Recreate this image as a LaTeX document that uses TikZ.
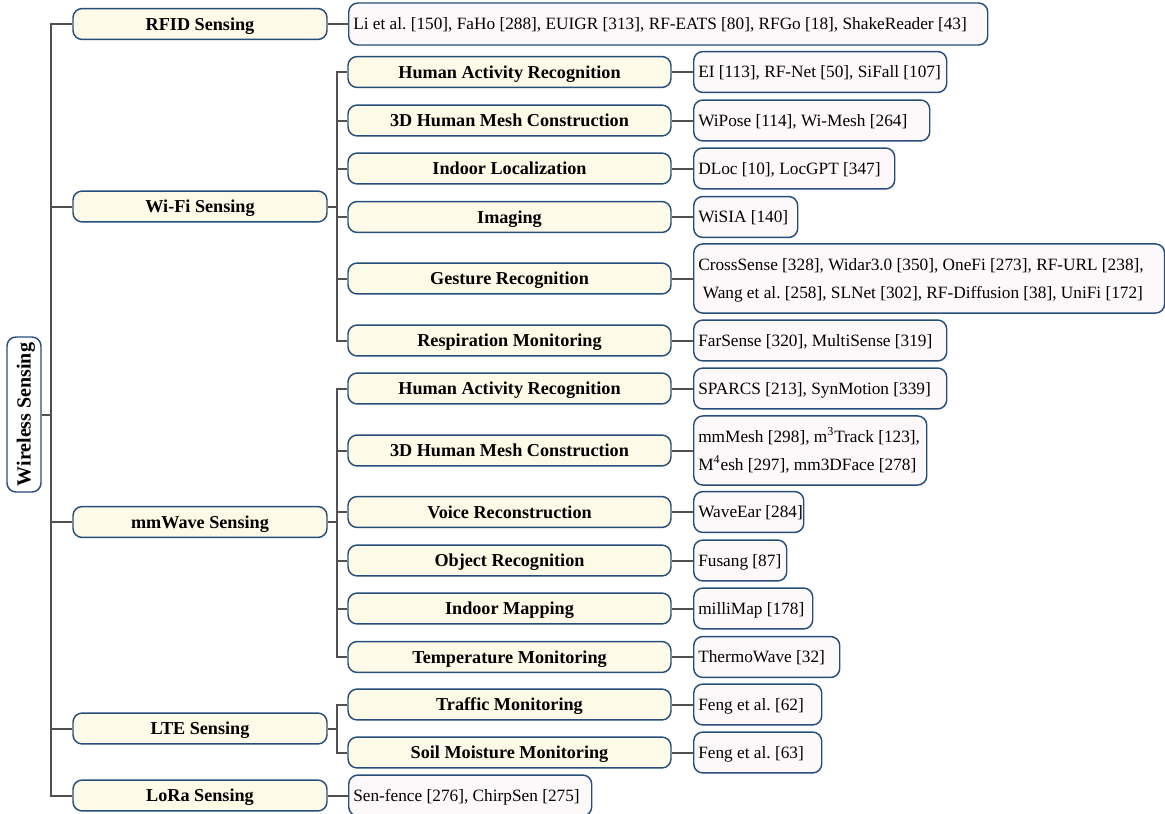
\documentclass[tikz,border=0pt]{standalone}
\usepackage{fontspec}
\setmainfont{Liberation Serif}
\frenchspacing
\definecolor{bcol}{RGB}{38,78,122}
\definecolor{lfill}{RGB}{254,250,232}
\definecolor{rfill}{RGB}{253,249,251}
\definecolor{lcol}{RGB}{80,80,80}
\newcommand{\rb}[2]{\makebox[#1][l]{\hspace{2.5pt}#2}}
\newcommand{\rbb}[3]{\makebox[#1][l]{\hspace{2.5pt}\begin{tabular}{@{}l@{}}#2\\#3\end{tabular}}}
\begin{document}
\begin{tikzpicture}[x=0.55pt,y=-0.55pt,
  lvl/.style={draw=bcol, fill=lfill, line width=0.8pt, rounded corners=5pt, inner sep=0pt, minimum height=17pt, text height=6.8pt, text depth=0pt, font=\fontsize{10}{12}\selectfont\bfseries},
  lvla/.style={lvl, minimum width=139.7pt},
  lvlb/.style={lvl, minimum width=177.65pt},
  refbase/.style={draw=bcol, fill=rfill, line width=0.8pt, rounded corners=5pt, inner sep=0pt, anchor=west, font=\fontsize{9.5}{15.4}\selectfont},
  refn/.style={refbase, minimum height=22.5pt, text height=6.5pt, text depth=0pt},
  refm/.style={refbase, minimum height=38pt},
  rootn/.style={draw=bcol, fill=white, line width=0.8pt, rounded corners=5pt, inner sep=0pt, rotate=90, minimum width=85.25pt, minimum height=18.7pt, text height=7.4pt, text depth=0pt, font=\fontsize{11}{13}\selectfont\bfseries},
  conn/.style={draw=lcol, line width=1.1pt}]
\useasboundingbox (0,0) rectangle (1165,814);

% root
\node[rootn] (root) at (24,414.5) {Wireless Sensing};

% level 1
\node[lvla] (rfid) at (200,24) {RFID Sensing};
\node[lvla] (wifi) at (200,206.5) {Wi-Fi Sensing};
\node[lvla] (mmw)  at (200,522) {mmWave Sensing};
\node[lvla] (lte)  at (200,728.5) {LTE Sensing};
\node[lvla] (lora) at (200,795.5) {LoRa Sensing};

% level 2 (Wi-Fi)
\node[lvlb] (whar)  at (509.5,72) {Human Activity Recognition};
\node[lvlb] (wmesh) at (509.5,120.5) {3D Human Mesh Construction};
\node[lvlb] (wloc)  at (509.5,168.5) {Indoor Localization};
\node[lvlb] (wimg)  at (509.5,217) {Imaging};
\node[lvlb] (wges)  at (509.5,278.5) {Gesture Recognition};
\node[lvlb] (wresp) at (509.5,340.5) {Respiration Monitoring};
% level 2 (mmWave)
\node[lvlb] (mhar)  at (509.5,388.5) {Human Activity Recognition};
\node[lvlb] (mmesh) at (509.5,450.5) {3D Human Mesh Construction};
\node[lvlb] (mvoi)  at (509.5,512) {Voice Reconstruction};
\node[lvlb] (mobj)  at (509.5,560.5) {Object Recognition};
\node[lvlb] (mmap)  at (509.5,608.5) {Indoor Mapping};
\node[lvlb] (mtem)  at (509.5,657) {Temperature Monitoring};
% level 2 (LTE)
\node[lvlb] (ltra)  at (509.5,704.5) {Traffic Monitoring};
\node[lvlb] (lsoi)  at (509.5,752.5) {Soil Moisture Monitoring};

% references
\node[refn, minimum height=23.1pt] (rfidr) at (348,24) {\rb{351.45pt}{Li et al. [150], FaHo [288], EUIGR [313], RF-EATS [80], RFGo [18], ShakeReader [43]}};
\node[refn] (rwhar)  at (693,72) {\rb{139.15pt}{EI [113], RF-Net [50], SiFall [107]}};
\node[refn] (rwmesh) at (693,120.5) {\rb{129.8pt}{WiPose [114], Wi-Mesh [264]}};
\node[refn] (rwloc)  at (693,168.5) {\rb{110.55pt}{DLoc [10], LocGPT [347]}};
\node[refn] (rwimg)  at (693,217) {\rb{57.2pt}{WiSIA [140]}};
\node[refm] (rwges)  at (693,278.5) {\rbb{259pt}{CrossSense [328], Widar3.0 [350], OneFi [273], RF-URL [238],}{\hspace{2.5pt}Wang et al. [258], SLNet [302], RF-Diffusion [38], UniFi [172]}};
\node[refn] (rwresp) at (693,340.5) {\rb{139.15pt}{FarSense [320], MultiSense [319]}};
\node[refn] (rmhar)  at (693,388.5) {\rb{139.15pt}{SPARCS [213], SynMotion [339]}};
\node[refm] (rmmesh) at (693,450.5) {\rbb{128.15pt}{mmMesh [298], m\textsuperscript{3}Track [123],}{M\textsuperscript{4}esh [297], mm3DFace [278]}};
\node[refn] (rmvoi)  at (693,512) {\rb{60.5pt}{WaveEar [284]}};
\node[refn] (rmobj)  at (693,560.5) {\rb{51.15pt}{Fusang [87]}};
\node[refn] (rmmap)  at (693,608.5) {\rb{65.45pt}{milliMap [178]}};
\node[refn] (rmtem)  at (693,657) {\rb{80.3pt}{ThermoWave [32]}};
\node[refn] (rltra)  at (693,704.5) {\rb{70.4pt}{Feng et al. [62]}};
\node[refn] (rlsoi)  at (693,752.5) {\rb{70.4pt}{Feng et al. [63]}};
\node[refn] (rlora)  at (348,795.5) {\rb{133.65pt}{Sen-fence [276], ChirpSen [275]}};

% connectors: root to level 1
\foreach \c in {rfid,wifi,mmw,lte,lora}
  \draw[conn] (root.south) -- ++(9,0) |- (\c.west);
% Wi-Fi
\foreach \c in {whar,wmesh,wloc,wimg,wges,wresp}
  \draw[conn] (wifi.east) -- ++(9,0) |- (\c.west);
% mmWave
\foreach \c in {mhar,mmesh,mvoi,mobj,mmap,mtem}
  \draw[conn] (mmw.east) -- ++(9,0) |- (\c.west);
% LTE
\foreach \c in {ltra,lsoi}
  \draw[conn] (lte.east) -- ++(9,0) |- (\c.west);
% leaves
\draw[conn] (rfid.east) -- (rfidr.west);
\draw[conn] (lora.east) -- (rlora.west);
\foreach \a/\b in {whar/rwhar,wmesh/rwmesh,wloc/rwloc,wimg/rwimg,wges/rwges,wresp/rwresp,mhar/rmhar,mmesh/rmmesh,mvoi/rmvoi,mobj/rmobj,mmap/rmmap,mtem/rmtem,ltra/rltra,lsoi/rlsoi}
  \draw[conn] (\a.east) -- (\b.west);
\end{tikzpicture}
\end{document}
